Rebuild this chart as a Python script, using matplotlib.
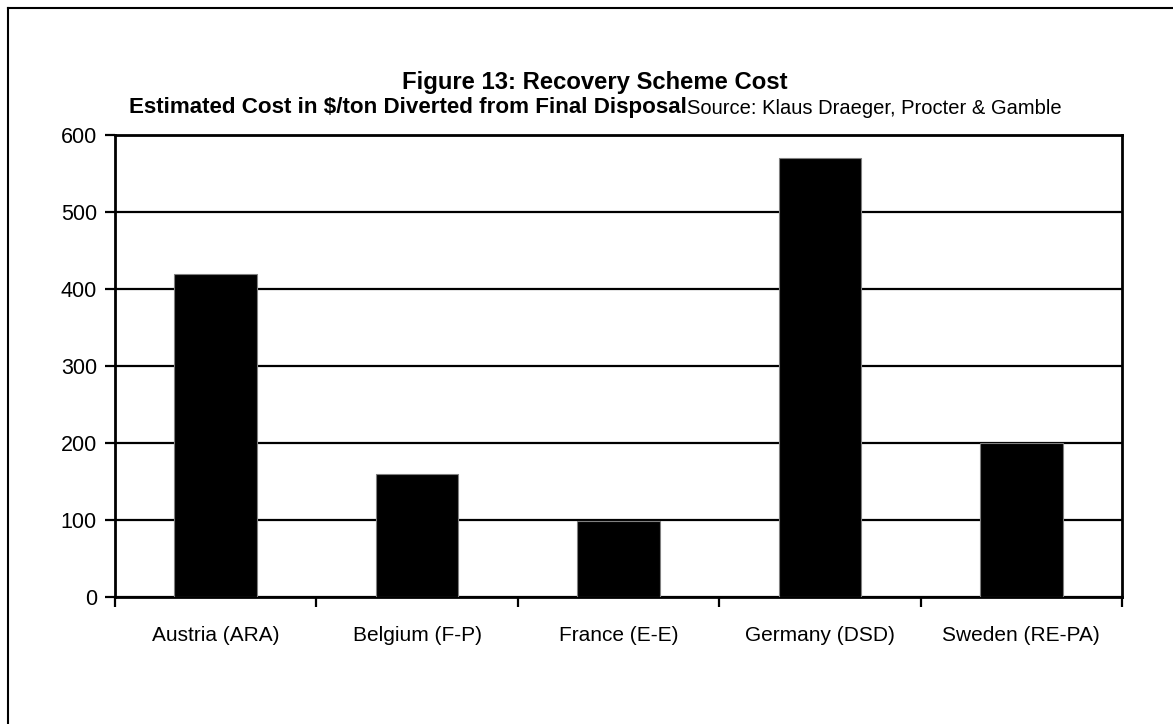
import numpy as np
import matplotlib.pyplot as plt

# recovery scheme costs, $/ton diverted from final disposal
schemes = ["Austria (ARA)", "Belgium (F-P)", "France (E-E)", "Germany (DSD)", "Sweden (RE-PA)"]
costs = [420, 160, 99, 570, 200]
y_ticks = [0, 100, 200, 300, 400, 500, 600]

title = "Figure 13: Recovery Scheme Cost"
subtitle = "Estimated Cost in $/ton Diverted from Final Disposal"
source = "Source: Klaus Draeger, Procter & Gamble"

plt.rcParams['font.family'] = ['Liberation Sans', 'DejaVu Sans']

W, H = 1173, 724
fig = plt.figure(figsize=(W / 100, H / 100), dpi=100)
fig.patch.set_facecolor("white")

# plot area in pixels: left 115, right 1122, top 135, bottom 597
ax = fig.add_axes([115 / W, 1 - 597 / H, (1122 - 115) / W, (597 - 135) / H])

x = np.arange(len(schemes))
ax.bar(x, costs, width=0.41, color="black", edgecolor="#808080", linewidth=0.8, zorder=3)

ax.set_xlim(-0.5, len(schemes) - 0.5)
ax.set_ylim(0, 600)
ax.set_yticks(y_ticks)
ax.set_yticklabels([str(v) for v in y_ticks], fontsize=15.5)
ax.yaxis.grid(True, color="black", linewidth=1.6, zorder=1)
ax.set_axisbelow(True)

# category labels in the middle, tick marks between categories
ax.set_xticks(x)
ax.set_xticklabels(schemes, fontsize=15)
ax.tick_params(axis="x", which="major", length=0, pad=21)
ax.set_xticks(np.arange(len(schemes) + 1) - 0.5, minor=True)
ax.tick_params(axis="x", which="minor", length=7, width=1.6, direction="out")
ax.tick_params(axis="y", length=7, width=1.6, direction="out", pad=6)

for s in ax.spines.values():
    s.set_linewidth(2)
    s.set_color("black")

# titles
fig.text(595 / W, 1 - 82 / H, title, ha="center", va="center", fontsize=17.2, fontweight="bold")
sub = fig.text(687 / W, 1 - 108 / H, subtitle, ha="right", va="center", fontsize=16.1, fontweight="bold")
ax.annotate(source, xy=(1, 0), xycoords=sub, va="bottom", ha="left", fontsize=14.5)

# outer chart border (left and top edges visible)
fig.add_artist(plt.Line2D([8 / W, 8 / W], [0, 1 - 8 / H], color="black", linewidth=1.5))
fig.add_artist(plt.Line2D([8 / W, 1], [1 - 8 / H, 1 - 8 / H], color="black", linewidth=1.5))

fig.savefig("out.png", dpi=100)
